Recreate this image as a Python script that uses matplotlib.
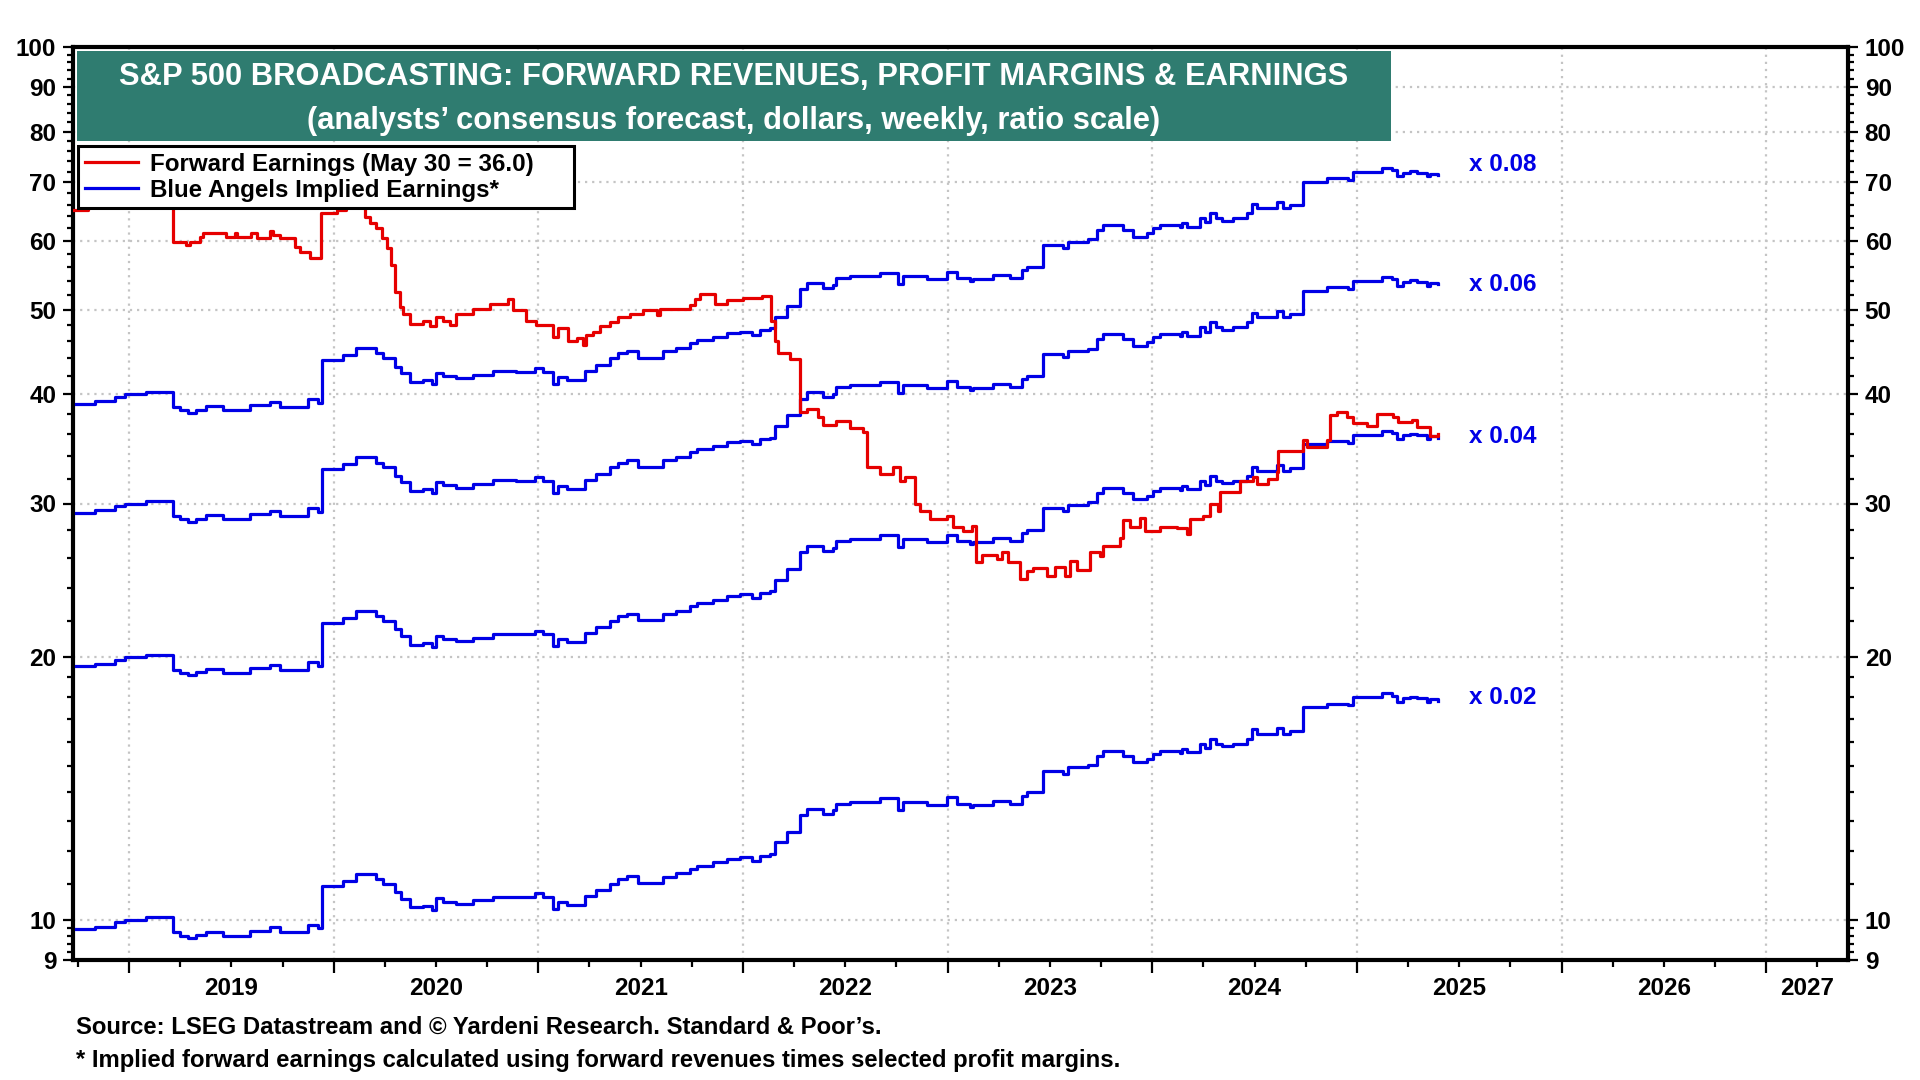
import numpy as np
import matplotlib
matplotlib.use("Agg")
import matplotlib.pyplot as plt
from matplotlib.patches import Rectangle
from matplotlib.ticker import FixedLocator, NullFormatter, FixedFormatter
from matplotlib.transforms import blended_transform_factory

plt.rcParams['font.family'] = ['Liberation Sans', 'DejaVu Sans']
plt.rcParams['font.weight'] = 'bold'

# forward revenues (dollars), weekly steps, x = decimal year
rev_t = [2018.743, 2018.832, 2018.930, 2018.979, 2019.085, 2019.215, 2019.248, 2019.289, 2019.329,
         2019.378, 2019.460, 2019.590, 2019.688, 2019.737, 2019.875, 2019.924, 2019.943, 2020.046,
         2020.111, 2020.209, 2020.241, 2020.299, 2020.331, 2020.372, 2020.437, 2020.478, 2020.502,
         2020.535, 2020.600, 2020.681, 2020.779, 2020.893, 2020.983, 2021.023, 2021.072, 2021.097,
         2021.138, 2021.227, 2021.284, 2021.349, 2021.390, 2021.431, 2021.488, 2021.610, 2021.675,
         2021.740, 2021.773, 2021.854, 2021.920, 2021.985, 2022.042, 2022.083, 2022.131, 2022.156,
         2022.213, 2022.278, 2022.311, 2022.392, 2022.441, 2022.457, 2022.522, 2022.669, 2022.759,
         2022.783, 2022.897, 2022.995, 2023.044, 2023.109, 2023.125, 2023.223, 2023.304, 2023.362,
         2023.386, 2023.467, 2023.565, 2023.589, 2023.687, 2023.728, 2023.761, 2023.858, 2023.907,
         2023.973, 2024.005, 2024.037, 2024.135, 2024.143, 2024.168, 2024.233, 2024.257, 2024.282,
         2024.314, 2024.339, 2024.396, 2024.461, 2024.486, 2024.510, 2024.608, 2024.640, 2024.673,
         2024.738, 2024.852, 2024.958, 2024.982, 2025.121, 2025.170, 2025.194, 2025.227, 2025.260,
         2025.292, 2025.341, 2025.357, 2025.398]
rev_v = [488, 491, 497, 500, 503.5, 484, 480, 476.5, 480.5,
         485, 480, 486, 490.5, 484, 494, 489, 547.5, 554.5,
         564.5, 557, 550, 538, 528.5, 517, 519, 514, 529.5,
         524.5, 521.5, 526.5, 531.5, 531, 536.5, 531, 514.5, 524,
         520, 532.5, 541, 550, 557, 561, 551, 560.5, 565.5,
         572, 577, 582, 587.5, 590, 585, 592.5, 595, 613.5,
         631, 659.5, 670.5, 661.5, 667.5, 679.5, 683, 689.5, 669,
         683, 678, 691, 679.5, 674, 678, 684.5, 679.5, 694,
         700, 741.5, 735, 748, 752.5, 771.5, 781.5, 771.5, 758,
         765, 775, 781.5, 777.5, 785.5, 778.5, 796, 787, 806.5,
         796, 791, 796, 806.5, 826.5, 817, 830, 817, 824,
         876.5, 884.5, 880.5, 899.5, 909, 903.5, 888.5, 897.5, 901.5,
         897.5, 888.5, 895, 891]

# forward earnings
earn_t = [2018.726, 2018.80, 2019.215, 2019.280, 2019.297, 2019.346, 2019.362, 2019.476, 2019.517,
          2019.525, 2019.598, 2019.623, 2019.688, 2019.704, 2019.737, 2019.810, 2019.834, 2019.883,
          2019.940, 2020.014, 2020.06, 2020.152, 2020.176, 2020.209, 2020.234, 2020.258, 2020.282,
          2020.299, 2020.323, 2020.339, 2020.372, 2020.437, 2020.470, 2020.502, 2020.535, 2020.567,
          2020.600, 2020.681, 2020.763, 2020.852, 2020.877, 2020.942, 2020.991, 2021.072, 2021.097,
          2021.146, 2021.187, 2021.219, 2021.235, 2021.268, 2021.301, 2021.349, 2021.390, 2021.447,
          2021.512, 2021.578, 2021.594, 2021.740, 2021.765, 2021.789, 2021.862, 2021.920, 2022.001,
          2022.091, 2022.135, 2022.156, 2022.172, 2022.229, 2022.278, 2022.311, 2022.368, 2022.392,
          2022.457, 2022.522, 2022.588, 2022.604, 2022.669, 2022.734, 2022.767, 2022.791, 2022.840,
          2022.864, 2022.913, 2022.995, 2023.027, 2023.076, 2023.117, 2023.138, 2023.166, 2023.239,
          2023.264, 2023.296, 2023.353, 2023.386, 2023.418, 2023.484, 2023.525, 2023.574, 2023.598,
          2023.631, 2023.696, 2023.745, 2023.761, 2023.843, 2023.858, 2023.891, 2023.940, 2023.965,
          2024.037, 2024.119, 2024.168, 2024.184, 2024.249, 2024.282, 2024.323, 2024.331, 2024.429,
          2024.494, 2024.510, 2024.567, 2024.608, 2024.616, 2024.738, 2024.754, 2024.852, 2024.869,
          2024.901, 2024.950, 2024.982, 2025.048, 2025.096, 2025.178, 2025.202, 2025.267, 2025.292,
          2025.357, 2025.398]
earn_v = [65.0, 66.0, 59.8, 59.3, 59.8, 60.6, 61.3, 60.6, 61.3,
          60.6, 61.3, 60.5, 61.6, 60.9, 60.5, 59.0, 58.3, 57.3,
          64.5, 65.0, 66.0, 63.9, 62.8, 62.0, 60.4, 58.8, 56.3,
          52.4, 50.4, 49.5, 48.2, 48.6, 47.9, 49.1, 48.5, 48.0,
          49.4, 50.1, 50.8, 51.4, 50.0, 48.6, 48.1, 46.6, 47.7,
          46.0, 46.4, 45.6, 46.8, 47.2, 47.9, 48.4, 49.1, 49.5,
          50.0, 49.3, 50.1, 50.6, 51.4, 52.1, 50.8, 51.3, 51.6,
          51.9, 48.6, 46.0, 44.6, 43.9, 38.2, 38.5, 37.7, 36.9,
          37.3, 36.6, 36.2, 33.0, 32.4, 33.0, 31.8, 32.2, 30.0,
          29.4, 28.8, 29.0, 28.2, 27.9, 28.3, 25.7, 26.2, 25.9,
          26.4, 25.7, 24.6, 25.1, 25.3, 24.8, 25.4, 24.8, 25.8,
          25.2, 26.4, 26.1, 26.8, 27.4, 28.7, 28.2, 28.9, 27.9,
          28.2, 28.1, 27.7, 28.8, 29.0, 30.0, 29.4, 30.9, 31.8,
          32.2, 31.6, 32.0, 32.6, 34.5, 35.5, 34.8, 35.5, 37.9,
          38.2, 37.7, 37.1, 36.8, 38.0, 37.7, 37.2, 37.4, 36.7,
          35.8, 36.0]

margins = [0.08, 0.06, 0.04, 0.02]
margin_labels = ['x 0.08', 'x 0.06', 'x 0.04', 'x 0.02']
label_lift = [1.03, 1.0, 1.005, 1.008]
years = list(range(2019, 2028))
yticks = [9, 10, 20, 30, 40, 50, 60, 70, 80, 90, 100]

RED = '#e60000'
BLUE = '#0000e6'
TEAL = '#2f7c70'

fig = plt.figure(figsize=(19.2, 10.8), dpi=100)
ax = fig.add_axes([73 / 1920, 1 - 960 / 1080, (1848 - 73) / 1920, (960 - 47) / 1080])

xmin, xmax = 2018.726, 2027.40
ax.set_yscale('log')
ax.set_ylim(9, 100)
ax.set_xlim(xmin, xmax)

rev = np.array(rev_v)
blue_lines = []
for m, lab, lift in zip(margins, margin_labels, label_lift):
    ln, = ax.plot(rev_t, rev * m, drawstyle='steps-post', color=BLUE, lw=2.3, zorder=3)
    blue_lines.append(ln)
    ax.text(2025.55, rev[-1] * m * lift, lab, color=BLUE, fontsize=17.5, fontweight='bold',
            va='center', ha='left')
red_line, = ax.plot(earn_t, earn_v, drawstyle='steps-post', color=RED, lw=2.3, zorder=4)

# gridlines
for y in yticks[1:-1]:
    ax.axhline(y, color='#c4c4c4', lw=1.6, ls=(0, (1, 2.2)), zorder=1)
for yr in years:
    ax.axvline(yr, color='#c4c4c4', lw=1.6, ls=(0, (1, 2.2)), zorder=1)

# y axis
ax.yaxis.set_major_locator(FixedLocator(yticks))
ax.yaxis.set_major_formatter(FixedFormatter([str(t) for t in yticks]))
minor_y = list(np.arange(9.2, 10, 0.2)) + list(range(11, 20)) + list(range(22, 100, 2))
ax.yaxis.set_minor_locator(FixedLocator(minor_y))
ax.yaxis.set_minor_formatter(NullFormatter())
ax.tick_params(axis='y', which='both', direction='out', left=True, right=True,
               labelleft=True, labelright=True, width=1.6, labelsize=17.5)
ax.tick_params(axis='y', which='major', length=7, pad=5)
ax.tick_params(axis='y', which='minor', length=4)

# x axis: year ticks, quarter minor ticks, labels mid-year
ax.xaxis.set_major_locator(FixedLocator(years))
ax.xaxis.set_major_formatter(NullFormatter())
quarters = [y + q for y in range(2018, 2028) for q in (0.25, 0.5, 0.75)]
ax.xaxis.set_minor_locator(FixedLocator([q for q in quarters if xmin <= q <= xmax]))
ax.xaxis.set_minor_formatter(NullFormatter())
ax.tick_params(axis='x', which='major', direction='out', length=9, width=1.6)
ax.tick_params(axis='x', which='minor', direction='out', length=5, width=1.6)
trans = blended_transform_factory(ax.transData, ax.transAxes)
for yr in years:
    xc = (max(yr, xmin) + min(yr + 1, xmax)) / 2
    ax.text(xc, -0.031, str(yr), transform=trans, ha='center', va='center',
            fontsize=17.5, fontweight='bold')

for s in ax.spines.values():
    s.set_linewidth(3)

# legend
leg = ax.legend([red_line, blue_lines[0]],
                ['Forward Earnings (May 30 = 36.0)', 'Blue Angels Implied Earnings*'],
                loc='upper left', bbox_to_anchor=(78 / 1920, 1 - 210 / 1080, 496 / 1920, 64 / 1080),
                bbox_transform=fig.transFigure, mode='expand', fontsize=17.4,
                handlelength=2.2, handletextpad=0.5, labelspacing=0.12, borderpad=0.28,
                borderaxespad=0, fancybox=False, framealpha=1, edgecolor='black')
leg.get_frame().set_linewidth(2.2)
leg.set_zorder(10)
for t in leg.get_texts():
    t.set_fontweight('bold')

# title box
fig.patches.append(Rectangle((77 / 1920, 1 - 141 / 1080), (1391 - 77) / 1920, 90 / 1080,
                             transform=fig.transFigure, facecolor=TEAL, edgecolor='none', zorder=5))
fig.text(734 / 1920, 1 - 77.5 / 1080,
         'S&P 500 BROADCASTING: FORWARD REVENUES, PROFIT MARGINS & EARNINGS',
         color='white', fontsize=22.2, fontweight='bold', ha='center', va='center', zorder=6)
fig.text(734 / 1920, 1 - 120.5 / 1080,
         '(analysts\u2019 consensus forecast, dollars, weekly, ratio scale)',
         color='white', fontsize=22.2, fontweight='bold', ha='center', va='center', zorder=6)

# footnotes
fig.text(76 / 1920, 1 - 1027 / 1080,
         'Source: LSEG Datastream and \u00a9 Yardeni Research. Standard & Poor\u2019s.',
         fontsize=17.2, fontweight='bold', ha='left', va='center')
fig.text(76 / 1920, 1 - 1060 / 1080,
         '* Implied forward earnings calculated using forward revenues times selected profit margins.',
         fontsize=17.2, fontweight='bold', ha='left', va='center')

fig.savefig('out.png', dpi=100)
